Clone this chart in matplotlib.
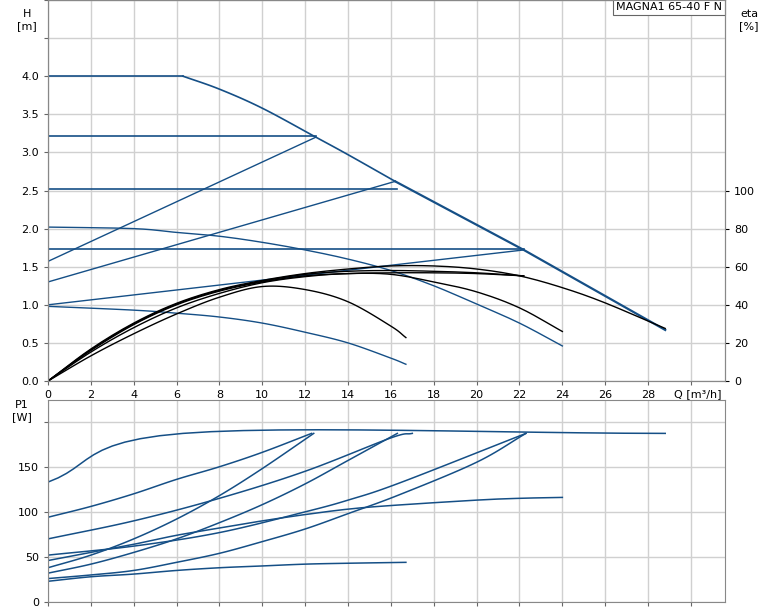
import matplotlib
matplotlib.use("Agg")
import matplotlib.pyplot as plt
import numpy as np

BLUE = "#154f86"
# --- H curves (Q m3/h, H m)
max_q = [0, 6.3, 8, 10, 12.5, 14, 16.2, 22.2, 28.8]
max_h = [4.0, 4.0, 3.83, 3.58, 3.2, 2.97, 2.62, 1.72, 0.67]
cp_levels = [3.22, 2.52, 1.73]
cp_ends = [12.5, 16.3, 22.2]
pp_start = [1.57, 1.30, 1.00]
pp_end_q = [12.5, 16.2, 22.2]
pp_end_h = [3.2, 2.62, 1.72]
mid_q = [0, 4, 6, 8, 10, 12, 14, 16, 18, 20, 22, 24]
mid_h = [2.02, 2.0, 1.95, 1.9, 1.82, 1.72, 1.6, 1.45, 1.25, 1.01, 0.76, 0.46]
min_q = [0, 4, 6, 8, 10, 12, 14, 16, 16.7]
min_h = [0.98, 0.93, 0.89, 0.84, 0.76, 0.64, 0.5, 0.3, 0.22]
# --- efficiency curves (eta %)
eta_curves = [
    ([0, 2, 4, 6, 8, 10, 12, 14, 16, 18, 20, 22, 24, 26, 28.8],
     [0, 16.8, 30.4, 40.8, 48, 52.8, 56.4, 58.8, 60.4, 60.4, 58.8, 55.2, 49, 41, 27.6]),
    ([0, 2, 4, 6, 8, 10, 12, 14, 16, 18, 20, 22.2],
     [0, 16.4, 30, 40.4, 47.6, 52.4, 56, 57.6, 58, 57.6, 56.8, 55.2]),
    ([0, 2, 4, 6, 8, 10, 12, 14, 16, 18, 20, 22.2],
     [0, 16, 29.6, 40, 47.2, 52, 55.2, 56.4, 56.8, 56.8, 56.4, 55.2]),
    ([0, 2, 4, 6, 8, 10, 12, 14, 16, 18, 20, 22, 24],
     [0, 15.2, 28, 38.4, 46, 51.6, 54.8, 56.4, 56, 52, 46.8, 38.4, 26]),
    ([0, 2, 4, 6, 8, 10, 12, 14, 16, 16.7],
     [0, 13.2, 24.8, 35.2, 44, 49.6, 48, 41.6, 28.8, 22.8]),
]
# --- P1 curves (W)
p1_curves = [
    ([0, 6.3, 28.8], [133, 187, 187]),
    ([0, 2, 4, 6, 8, 10, 12.3], [94, 106, 120, 136, 150, 166, 187]),
    ([0, 2, 4, 6, 8, 10, 12.4], [38, 52, 70, 92, 118, 148, 187]),
    ([0, 4, 8, 12, 16, 17.0], [70, 90, 115, 145, 182, 187]),
    ([0, 2, 4, 6, 8, 10, 12, 14, 16.3], [32, 42, 55, 70, 88, 108, 131, 157, 187]),
    ([0, 4, 8, 12, 14, 16.4, 22.3], [52, 62, 77, 100, 113, 132, 187]),
    ([0, 2, 4, 6, 8, 10, 12, 14, 16, 20, 22, 24], [46, 55, 64, 74, 82, 90, 97, 103, 107, 113, 115, 116]),
    ([0, 2, 4, 6, 8, 10, 12, 14, 16.4, 20, 22.3], [26, 30, 35, 44, 54, 67, 81, 98, 119, 155, 187]),
    ([0, 2, 4, 6, 8, 10, 12, 14, 16.7], [23, 28, 31, 35, 38, 40, 42, 43, 44]),
]
xticks = list(range(0, 30, 2))


def smooth(q, v, n=12):
    """Catmull-Rom spline through the given points."""
    q = np.asarray(q, float); v = np.asarray(v, float)
    if len(q) < 3:
        return q, v
    P = np.column_stack([q, v])
    P = np.vstack([2 * P[0] - P[1], P, 2 * P[-1] - P[-2]])
    out = []
    t = np.linspace(0, 1, n, endpoint=False)[:, None]
    for i in range(1, len(P) - 2):
        p0, p1, p2, p3 = P[i - 1], P[i], P[i + 1], P[i + 2]
        seg = 0.5 * ((2 * p1) + (-p0 + p2) * t + (2 * p0 - 5 * p1 + 4 * p2 - p3) * t ** 2
                     + (-p0 + 3 * p1 - 3 * p2 + p3) * t ** 3)
        out.append(seg)
    out.append(P[-2][None, :])
    out = np.vstack(out)
    return out[:, 0], out[:, 1]


fig = plt.figure(figsize=(7.74, 6.11), dpi=100)
ax = fig.add_axes([0.062, 0.3764, 0.875, 0.6236])
ax2 = ax.twinx()
bx = fig.add_axes([0.062, 0.0147, 0.875, 0.3306])

ax.plot(max_q[:2], max_h[:2], color=BLUE, lw=1.2)
ax.plot(*smooth(max_q[1:7], max_h[1:7]), color=BLUE, lw=1.2)
ax.plot(max_q[6:], max_h[6:], color=BLUE, lw=1.6)
for lv, e in zip(cp_levels, cp_ends):
    ax.plot([0, e], [lv, lv], color=BLUE, lw=1.2)
for s, eq, eh in zip(pp_start, pp_end_q, pp_end_h):
    ax.plot([0, eq], [s, eh], color=BLUE, lw=1)
ax.plot(*smooth(mid_q, mid_h), color=BLUE, lw=1)
ax.plot(*smooth(min_q, min_h), color=BLUE, lw=1)
for q, e in eta_curves:
    ax2.plot(*smooth(q, e), color="black", lw=1)

for q, p in p1_curves:
    bx.plot(*smooth(q, p), color=BLUE, lw=1.1)

for a in (ax, bx):
    a.set_xlim(0, 31.6)
    a.set_xticks(xticks + [30])
    a.grid(True, color="#d0d0d0", lw=1)
    a.set_axisbelow(True)
    a.tick_params(labelsize=8, length=3, color="#666666")
    for s in a.spines.values():
        s.set_color("#888888")
ax.set_ylim(0, 5.0)
ax.set_yticks(np.arange(0, 5.01, 0.5))
ax.set_yticklabels([f"{v:.1f}" if v <= 4.0 else "" for v in np.arange(0, 5.01, 0.5)])
ax.set_xticklabels([str(t) for t in xticks] + [""])
ax2.set_ylim(0, 200)
ax2.set_yticks([0, 20, 40, 60, 80, 100])
ax2.tick_params(labelsize=8, length=3)
ax2.grid(False)
for s in ax2.spines.values():
    s.set_color("#888888")
bx.set_ylim(0, 224)
bx.set_yticks([0, 50, 100, 150, 200])
bx.set_yticklabels(["0", "50", "100", "150", ""])
bx.set_xticklabels([])

fig.text(0.035, 0.985, "H\n[m]", fontsize=8, ha="center", va="top")
fig.text(0.968, 0.985, "eta\n[%]", fontsize=8, ha="center", va="top")
fig.text(0.028, 0.345, "P1\n[W]", fontsize=8, ha="center", va="top")
ax.text(30.3, -0.1, "Q [m³/h]", fontsize=8, ha="center", va="top")
ax.text(0.995, 0.995, "MAGNA1 65-40 F N", transform=ax.transAxes, fontsize=8,
        ha="right", va="top", bbox=dict(boxstyle="square,pad=0.3", fc="white", ec="#666666", lw=0.8))

fig.savefig("out.png", dpi=100)
